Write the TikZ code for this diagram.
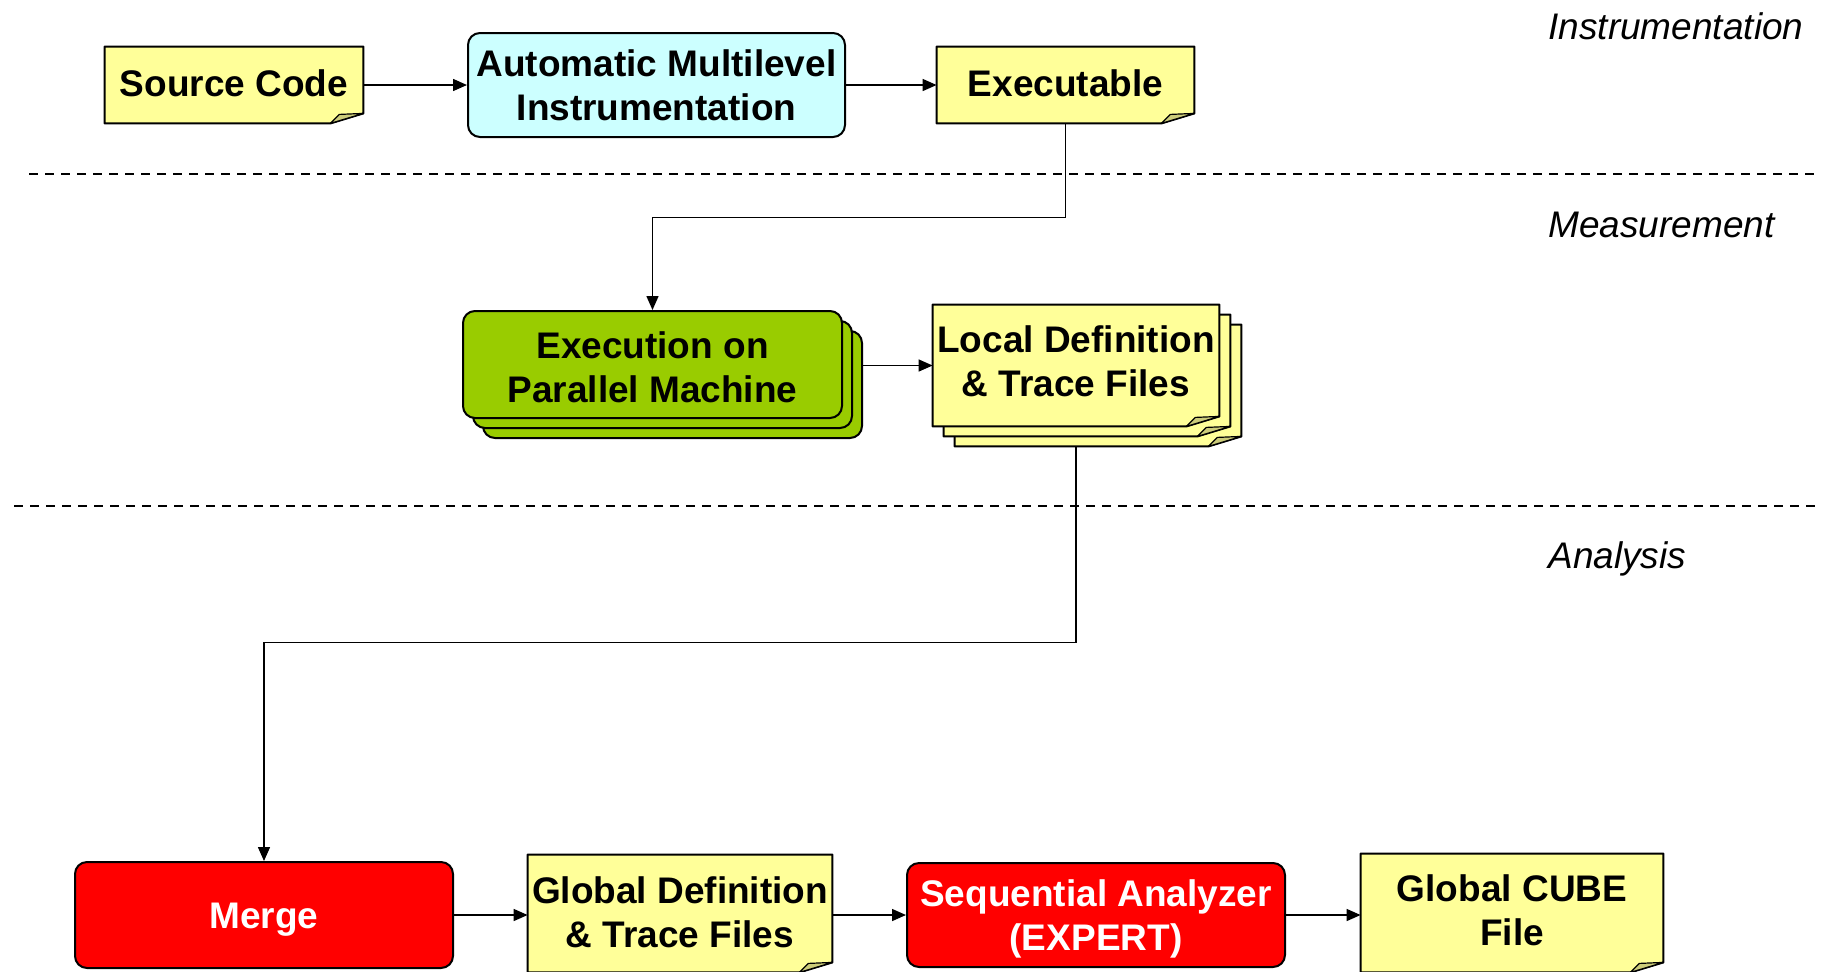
\documentclass[tikz,border=0pt]{standalone}
\usepackage{fontspec}
\setmainfont{Liberation Sans}
\usetikzlibrary{arrows.meta,backgrounds}

\definecolor{paper}{HTML}{FFFF99}
\definecolor{paperfold}{HTML}{CCCC7A}
\definecolor{instr}{HTML}{CCFFFF}
\definecolor{exec}{HTML}{99CC00}
\definecolor{analyze}{HTML}{FF0000}

% folded sheet drawn around a node's bounding rectangle
\newcommand\paperoutline[1]{%
  \draw[line width=1pt, fill=paper, line join=round]
    (#1.north west) -- (#1.north east) -- ([yshift=5pt]#1.south east)
    -- ([xshift=-16.5pt]#1.south east) -- (#1.south west) -- cycle;
  \draw[line width=0.6pt, fill=paperfold, line join=round]
    ([xshift=-16.5pt]#1.south east) -- ([xshift=-12pt,yshift=4.5pt]#1.south east)
    -- ([yshift=5pt]#1.south east) -- cycle;}

\tikzset{
  every node/.style={font=\fontsize{18.5pt}{22pt}\selectfont\bfseries,
    align=center, inner sep=1pt},
  % centre labels on their capital letters
  oneline/.style={text height=13.3pt, text depth=#1},
  oneline/.default=0pt,
  twoline/.style={text height=35.3pt, text depth=#1},
  twoline/.default=0pt,
  procbox/.style={draw=black, line width=1pt, rounded corners=6pt},
  sheet/.style={rectangle},
  edge/.style={line width=0.75pt, -{Triangle[length=7pt,width=6pt]}},
  divider/.style={line width=0.6pt, dash pattern=on 4.5pt off 3.5pt},
  phase/.style={font=\fontsize{18.5pt}{22pt}\selectfont\itshape,
    anchor=west, inner sep=0pt},
}

\begin{document}
\begin{tikzpicture}[x=0.5pt, y=-0.5pt]
\useasboundingbox (0,0) rectangle (1821,971);
\clip (0,0) rectangle (1821,971);

% phase separators and labels
\coordinate (d1a) at (29,174);  \coordinate (d1b) at (1815,174);
\coordinate (d2a) at (14,506);  \coordinate (d2b) at (1815,506);
\draw[divider] (d1a) -- (d1b);
\draw[divider] (d2a) -- (d2b);
\node[phase] (lbinstr) at (1548,26) {Instrumentation};
\node[phase] (lbmeas) at (1548,224.5) {Measurement};
\node[phase] (lbana) at (1548,558.5) {Analysis};

% instrumentation row
\node[sheet, oneline=1.5pt, minimum width=129pt, minimum height=38pt] (src) at (234,85) {Source Code};
\node[procbox, twoline, fill=instr, minimum width=188.5pt, minimum height=52pt] (ami) at (656.5,85)
  {Automatic Multilevel\\Instrumentation};
\node[sheet, oneline=1.5pt, minimum width=128.5pt, minimum height=38pt] (exe) at (1065.5,85) {Executable};

% measurement row
\node[procbox, fill=exec, minimum width=189.5pt, minimum height=53.5pt] (run3) at (672.5,384.5) {};
\node[procbox, fill=exec, minimum width=189.5pt, minimum height=53.5pt] (run2) at (662.5,374.5) {};
\node[procbox, twoline, text height=38.3pt, fill=exec, minimum width=189.5pt, minimum height=53.5pt] (run) at (652.5,364.5)
  {Execution on\\Parallel Machine};

\node[sheet, minimum width=143pt, minimum height=60.5pt] (ltf3) at (1098,385.5) {};
\node[sheet, minimum width=143pt, minimum height=60.5pt] (ltf2) at (1087,375.5) {};
\node[sheet, twoline=4.5pt, minimum width=143pt, minimum height=60.5pt] (ltf) at (1076,365.5)
  {Local Definition\\\& Trace Files};

% analysis row
\node[procbox, oneline, fill=analyze, text=white, minimum width=189pt, minimum height=53pt] (merge) at (264,915) {Merge};
\node[sheet, twoline=1.5pt, minimum width=152pt, minimum height=58.5pt] (gtf) at (680,913.5)
  {Global Definition\\\& Trace Files};
\node[procbox, twoline, fill=analyze, text=white, minimum width=189pt, minimum height=52pt] (seq) at (1096,915)
  {Sequential Analyzer\\(EXPERT)};
\node[sheet, twoline=2.5pt, minimum width=151pt, minimum height=59pt] (cube) at (1512,913)
  {Global CUBE\\File};

\begin{pgfonlayer}{background}
  \paperoutline{src}
  \paperoutline{exe}
  \paperoutline{ltf3}
  \paperoutline{ltf2}
  \paperoutline{ltf}
  \paperoutline{gtf}
  \paperoutline{cube}
\end{pgfonlayer}

% connectors
\draw[edge] (src.east) -- (ami.west);
\draw[edge] (ami.east) -- (exe.west);
\draw[edge] (exe.south) -- ++(0,94) -| (run.north);
\draw[edge] (run3.east |- ltf.west) -- (ltf.west);
\draw[edge] (ltf.south |- ltf3.south) -- ++(0,196) -| (merge.north);
\draw[edge] (merge.east) -- (merge.east -| gtf.west);
\draw[edge] (seq.west -| gtf.east) -- (seq.west);
\draw[edge] (seq.east) -- (seq.east -| cube.west);
\end{tikzpicture}
\end{document}
